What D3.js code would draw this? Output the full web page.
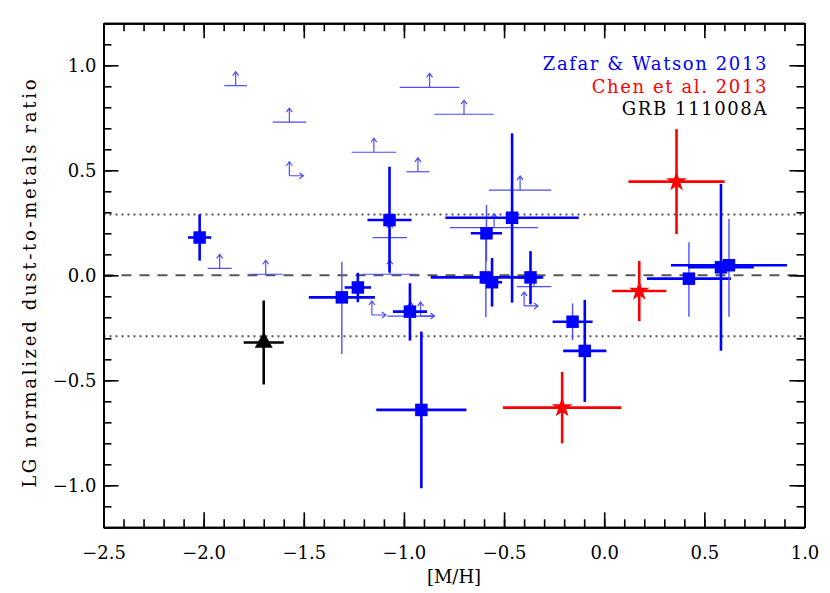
<!DOCTYPE html>
<html>
<head>
<meta charset="utf-8">
<script src="https://cdn.jsdelivr.net/npm/d3@7"></script>
<style>
  body { margin: 0; background: #fff; }
  text { font-family: "DejaVu Serif", serif; }
</style>
</head>
<body>
<div id="chart"></div>
<script>
// Zafar & Watson 2013 - detections
const zwX = [-2.02, -1.31, -1.23, -1.072, -0.97, -0.913, -0.588, -0.591, -0.56, -0.46, -0.368, -0.158, -0.097, 0.423, 0.583, 0.623];
const zwY = [0.18, -0.105, -0.058, 0.263, -0.173, -0.641, 0.2, -0.01, -0.033, 0.274, -0.01, -0.221, -0.36, -0.016, 0.038, 0.048];
const zwXerr = [0.058, 0.165, 0.066, 0.11, 0.085, 0.225, 0.078, 0.275, 0.05, 0.333, 0.064, 0.1, 0.108, 0.21, 0.164, 0.29];
const zwYerrUp = [0.11, 0.17, 0.07, 0.254, 0.135, 0.373, 0.135, 0.19, 0.115, 0.402, 0.125, 0.087, 0.243, 0.173, 0.397, 0.22];
const zwYerrDn = [0.11, 0.27, 0.07, 0.25, 0.138, 0.373, 0.135, 0.19, 0.116, 0.404, 0.128, 0.087, 0.243, 0.181, 0.397, 0.245];
const zwYerrWeak = [false, true, false, false, false, false, true, true, false, false, false, true, false, true, false, true];

// Zafar & Watson 2013 - lower limits on the ratio
const zwLimX = [-1.84, -1.572, -0.872, -0.70, -1.15, -0.93, -0.42, -0.55, -1.07, -1.92, -1.69, -1.07, -0.35, -0.967];
const zwLimY = [0.903, 0.729, 0.895, 0.767, 0.586, 0.493, 0.406, 0.227, 0.179, 0.033, 0.005, 0.005, -0.054, -0.194];
const zwLimXerr = [0.057, 0.083, 0.149, 0.148, 0.111, 0.057, 0.156, 0.22, 0.086, 0.06, 0.085, 0.14, 0.086, 0.116];

// Zafar & Watson 2013 - lower limits on both
const zwBothX = [-1.572, -1.16, -0.917, -0.40];
const zwBothY = [0.474, -0.189, -0.194, -0.146];

// Chen et al. 2013
const chX = [0.361, 0.175, -0.21];
const chY = [0.446, -0.075, -0.63];
const chXerr = [0.24, 0.135, 0.296];
const chYerr = [0.25, 0.143, 0.17];

// GRB 111008A
const grbX = [-1.70];
const grbY = [-0.32];
const grbXerr = [0.10];
const grbYerr = [0.20];

const refLines = [0.29, -0.29];
const xMajor = [-2.5, -2.0, -1.5, -1.0, -0.5, 0.0, 0.5, 1.0];
const yMajor = [-1.0, -0.5, 0.0, 0.5, 1.0];

const margin = {top: 23.3, right: 25.5, bottom: 65.7, left: 103.5},
    width = 830 - margin.left - margin.right,
    height = 593 - margin.top - margin.bottom;

const svg = d3.select("#chart")
  .append("svg")
    .attr("width", 830)
    .attr("height", 593)
  .append("g")
    .attr("transform", `translate(${margin.left},${margin.top})`);

const x = d3.scaleLinear().domain([-2.5, 1.0]).range([0, width]);
const y = d3.scaleLinear().domain([-1.2, 1.2]).range([height, 0]);

const fmt = d => d3.format(".1f")(d).replace("-", "\u2212");
const xMinor = d3.range(-25, 11).map(d => d / 10);
const yMinor = d3.range(-12, 13).map(d => d / 10);

// reference lines
svg.append("line")
  .attr("x1", 0).attr("x2", width)
  .attr("y1", y(0)).attr("y2", y(0))
  .attr("stroke", "#555").attr("stroke-width", 2)
  .attr("stroke-dasharray", "10,8");

svg.selectAll(".dotline")
  .data(refLines)
  .join("line")
    .attr("x1", 0).attr("x2", width)
    .attr("y1", d => y(d)).attr("y2", d => y(d))
    .attr("stroke", "#555").attr("stroke-width", 2)
    .attr("stroke-dasharray", "2,4");

const light = "#4d4dff";

// lower limits: horizontal bar + up arrow
const lim = svg.append("g")
  .attr("stroke", light).attr("stroke-width", 1.2).attr("fill", "none");

zwLimX.forEach((d, i) => {
  const cx = x(d), cy = y(zwLimY[i]);
  lim.append("line")
    .attr("x1", x(d - zwLimXerr[i])).attr("x2", x(d + zwLimXerr[i]))
    .attr("y1", cy).attr("y2", cy);
  lim.append("path")
    .attr("d", `M${cx},${cy}V${cy - 14}M${cx - 3},${cy - 10}L${cx},${cy - 14}L${cx + 3},${cy - 10}`);
});

zwBothX.forEach((d, i) => {
  const cx = x(d), cy = y(zwBothY[i]);
  lim.append("path")
    .attr("d", `M${cx},${cy}V${cy - 14}M${cx - 3},${cy - 10}L${cx},${cy - 14}L${cx + 3},${cy - 10}` +
               `M${cx},${cy}H${cx + 14}M${cx + 10},${cy - 3}L${cx + 14},${cy}L${cx + 10},${cy + 3}`);
});

// blue squares with error bars
const zw = svg.append("g");
zwX.forEach((d, i) => {
  zw.append("line")
    .attr("x1", x(d)).attr("x2", x(d))
    .attr("y1", y(zwY[i] + zwYerrUp[i])).attr("y2", y(zwY[i] - zwYerrDn[i]))
    .attr("stroke", zwYerrWeak[i] ? light : "#0000ff")
    .attr("stroke-width", zwYerrWeak[i] ? 1.4 : 2.6);
  zw.append("line")
    .attr("x1", x(d - zwXerr[i])).attr("x2", x(d + zwXerr[i]))
    .attr("y1", y(zwY[i])).attr("y2", y(zwY[i]))
    .attr("stroke", "#0000ff").attr("stroke-width", 2.6);
});
zw.selectAll("path")
  .data(zwX)
  .join("path")
    .attr("d", d3.symbol(d3.symbolSquare, 156))
    .attr("transform", (d, i) => `translate(${x(d)},${y(zwY[i])})`)
    .attr("fill", "#0000ff");

// error bar helper for the other sets
function crosses(xs, ys, xe, ye, color, shape, size) {
  const g = svg.append("g");
  xs.forEach((d, i) => {
    g.append("line")
      .attr("x1", x(d)).attr("x2", x(d))
      .attr("y1", y(ys[i] + ye[i])).attr("y2", y(ys[i] - ye[i]))
      .attr("stroke", color).attr("stroke-width", 2.6);
    g.append("line")
      .attr("x1", x(d - xe[i])).attr("x2", x(d + xe[i]))
      .attr("y1", y(ys[i])).attr("y2", y(ys[i]))
      .attr("stroke", color).attr("stroke-width", 2.6);
  });
  g.selectAll("path")
    .data(xs)
    .join("path")
      .attr("d", d3.symbol(shape, size))
      .attr("transform", (d, i) => `translate(${x(d)},${y(ys[i])})`)
      .attr("fill", color);
}

crosses(chX, chY, chXerr, chYerr, "#ff0000", d3.symbolStar, 130);
crosses(grbX, grbY, grbXerr, grbYerr, "#000000", d3.symbolTriangle, 140);

// axes
function styleAxis(g) {
  g.selectAll(".domain").attr("stroke-width", 2);
  g.selectAll(".tick line").attr("stroke-width", 1.6);
  g.selectAll("text").style("font-family", "DejaVu Serif").style("font-size", "18px").attr("fill", "#000");
}

svg.append("g")
  .attr("transform", `translate(0,${height})`)
  .call(d3.axisBottom(x).tickValues(xMajor).tickFormat(fmt).tickSizeInner(-15).tickSizeOuter(0).tickPadding(19))
  .call(styleAxis);
svg.append("g")
  .attr("transform", `translate(0,${height})`)
  .call(d3.axisBottom(x).tickValues(xMinor).tickFormat("").tickSizeInner(-8).tickSizeOuter(0))
  .call(styleAxis);
svg.append("g")
  .call(d3.axisTop(x).tickValues(xMajor).tickFormat("").tickSizeInner(-15).tickSizeOuter(0))
  .call(styleAxis);
svg.append("g")
  .call(d3.axisTop(x).tickValues(xMinor).tickFormat("").tickSizeInner(-8).tickSizeOuter(0))
  .call(styleAxis);

svg.append("g")
  .call(d3.axisLeft(y).tickValues(yMajor).tickFormat(fmt).tickSizeInner(-15).tickSizeOuter(0).tickPadding(7))
  .call(styleAxis);
svg.append("g")
  .call(d3.axisLeft(y).tickValues(yMinor).tickFormat("").tickSizeInner(-8).tickSizeOuter(0))
  .call(styleAxis);
svg.append("g")
  .attr("transform", `translate(${width},0)`)
  .call(d3.axisRight(y).tickValues(yMajor).tickFormat("").tickSizeInner(-15).tickSizeOuter(0))
  .call(styleAxis);
svg.append("g")
  .attr("transform", `translate(${width},0)`)
  .call(d3.axisRight(y).tickValues(yMinor).tickFormat("").tickSizeInner(-8).tickSizeOuter(0))
  .call(styleAxis);

// axis titles
svg.append("text")
  .attr("x", width / 2)
  .attr("y", height + 56)
  .attr("text-anchor", "middle")
  .style("font-size", "18px")
  .text("[M/H]");

svg.append("text")
  .attr("transform", `translate(${-margin.left + 36},${height / 2 + 7}) rotate(-90)`)
  .attr("text-anchor", "middle")
  .style("font-size", "18px")
  .style("letter-spacing", "2.7px")
  .text("LG normalized dust-to-metals ratio");

// legend
const legend = [
  {label: "Zafar & Watson 2013", color: "#0000ff"},
  {label: "Chen et al. 2013", color: "#ff0000"},
  {label: "GRB 111008A", color: "#000000"}
];
svg.selectAll(".legend")
  .data(legend)
  .join("text")
    .attr("x", 768 - margin.left)
    .attr("y", (d, i) => 70 - margin.top + i * 22.7)
    .attr("text-anchor", "end")
    .style("font-size", "18px")
    .style("letter-spacing", "1.6px")
    .attr("fill", d => d.color)
    .text(d => d.label);
</script>
</body>
</html>
